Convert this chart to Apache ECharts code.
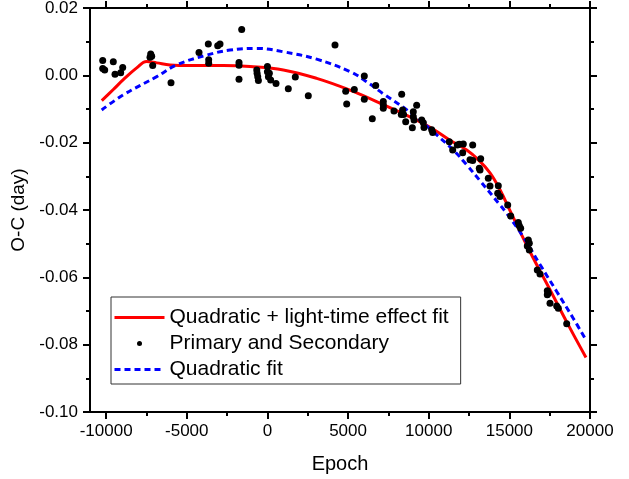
<!DOCTYPE html>
<html>
<head>
<meta charset="utf-8">
<title>O-C diagram</title>
<script src="https://cdn.jsdelivr.net/npm/echarts@6.0.0/dist/echarts.min.js"></script>
<style>
  html, body { margin: 0; padding: 0; background: #fff; }
  #ocChart { width: 629px; height: 479px; }
</style>
</head>
<body>
<div id="ocChart"></div>
<script>
  // observed minima (primary and secondary)
  const obsEpoch = [
    -10213, -10213, -10089, -9555, -9450, -9097, -8973, -7237, -7175, -7280,
    -7113, -5978, -4242, -3665, -3641, -3641, -3083, -2940, -1595, -1762,
    -1762, -1762, -660, -640, -600, -560, 0, 0, 120, 60,
    200, 532, 1295, 1729, 2535, 4190, 4853, 4915, 5387, 6007,
    6007, 6713, 6503, 7185, 7185, 7185, 7848, 8325, 8380, 8440,
    8300, 8573, 9045, 9045, 9090, 8985, 9254, 9566, 9667, 9708,
    10185, 10247, 11277, 11773, 11897, 12145, 12727, 11487, 12107, 12560,
    12727, 13223, 13137, 13180, 13695, 13800, 14315, 14277, 14420, 14897,
    15083, 15555, 15617, 15700, 16175, 16237, 16113, 16237, 16733, 16900,
    17353, 17415, 17353, 17520, 17935, 18035, 18555
  ]
  const obsOC = [
    0.0044, 0.0020, 0.0016, 0.0040, 0.0003, 0.0008, 0.0023, 0.0063, 0.0057, 0.0054,
    0.0029, -0.0022, 0.0068, 0.0093, 0.0046, 0.0036, 0.0088, 0.0093, 0.0136, 0.0038,
    0.0030, -0.0012, 0.0016, 0.0006, -0.0004, -0.0015, 0.0026, 0.0011, 0.0006, -0.0004,
    -0.0014, -0.0024, -0.0040, -0.0005, -0.0061, 0.0090, -0.0047, -0.0085, -0.0042, -0.0002,
    -0.0071, -0.0030, -0.0129, -0.0078, -0.0088, -0.0098, -0.0106, -0.0056, -0.0103, -0.0116,
    -0.0116, -0.0138, -0.0108, -0.0123, -0.0133, -0.0156, -0.0089, -0.0133, -0.0141, -0.0155,
    -0.0162, -0.0170, -0.0197, -0.0207, -0.0205, -0.0204, -0.0207, -0.0222, -0.0230, -0.0251,
    -0.0253, -0.0248, -0.0276, -0.0281, -0.0306, -0.0329, -0.0328, -0.0350, -0.0360, -0.0385,
    -0.0418, -0.0437, -0.0447, -0.0454, -0.0489, -0.0499, -0.0507, -0.0519, -0.0578, -0.0590,
    -0.0640, -0.0647, -0.0652, -0.0677, -0.0685, -0.0692, -0.0738
  ]

  // quadratic + light-time effect fit
  const lteEpoch = [-10270, -9555, -8935, -8105, -7485, -6865, -6040, -4800, -2735, -1080,
    985, 3055, 5120, 7185, 9254, 10285, 11300, 12355, 13100, 13800,
    14420, 15040, 16280, 17520, 18760, 19750]
  const lteOC = [-0.0075, -0.0042, -0.0013, 0.0022, 0.0041, 0.0037, 0.0031, 0.0029, 0.0029, 0.0026,
    0.0016, -0.0009, -0.0044, -0.0087, -0.0133, -0.0160, -0.0192, -0.0222, -0.0252, -0.0290,
    -0.0340, -0.0402, -0.0524, -0.0637, -0.0751, -0.0838]

  // quadratic fit
  const quadEpoch = [-10275, -8935, -6865, -5625, -3765, -2320, -665, 985, 3055, 5120,
    6155, 7185, 8425, 9460, 10285, 11525, 12355, 13180, 14420, 14835,
    15865, 16900, 17935, 18965, 19750]
  const quadOC = [-0.0103, -0.0058, -0.0004, 0.0031, 0.0060, 0.0075, 0.0080, 0.0070, 0.0048, 0.0011,
    -0.0019, -0.0055, -0.0095, -0.0133, -0.0168, -0.0222, -0.0266, -0.0313, -0.0385, -0.0410,
    -0.0480, -0.0562, -0.0642, -0.0722, -0.0786]

  const xMajorTicks = [-10000, -5000, 0, 5000, 10000, 15000, 20000]
  const xMinorTicks = [-7500, -2500, 2500, 7500, 12500, 17500]

  const FONT = 'Liberation Sans, Arial, sans-serif'
  const black = '#000'

  const zip = (xs, ys) => xs.map((x, i) => [x, ys[i]])

  function xAxisDef (pos, ticks, len, withLine, withLabel) {
    const axis = {
      type: 'value',
      position: pos,
      min: -11000,
      max: 20000,
      axisLine: { show: withLine, onZero: false, lineStyle: { color: black, width: 2, cap: 'square' } },
      axisTick: { show: true, customValues: ticks, length: len, lineStyle: { color: black, width: 2 } },
      axisLabel: { show: false },
      splitLine: { show: false }
    }
    if (withLabel) {
      axis.axisLabel = {
        show: true,
        customValues: ticks,
        color: black,
        fontSize: 17,
        fontFamily: FONT,
        margin: 11,
        formatter: v => String(v)
      }
      axis.name = 'Epoch'
      axis.nameLocation = 'middle'
      axis.nameGap = 42
      axis.nameTextStyle = { color: black, fontSize: 20, fontFamily: FONT }
    }
    return axis
  }

  function yAxisDef (pos, withLabel) {
    const axis = {
      type: 'value',
      position: pos,
      min: -0.1,
      max: 0.02,
      interval: 0.02,
      axisLine: { show: true, onZero: false, lineStyle: { color: black, width: 2, cap: 'square' } },
      axisTick: { show: true, length: 7, lineStyle: { color: black, width: 2 } },
      minorTick: { show: true, splitNumber: 2, length: 4, lineStyle: { color: black, width: 2 } },
      axisLabel: { show: false },
      splitLine: { show: false },
      minorSplitLine: { show: false }
    }
    if (withLabel) {
      axis.axisLabel = {
        show: true,
        color: black,
        fontSize: 17,
        fontFamily: FONT,
        margin: 12,
        formatter: v => v.toFixed(2)
      }
      axis.name = 'O-C (day)'
      axis.nameLocation = 'middle'
      axis.nameGap = 55
      axis.nameTextStyle = { color: black, fontSize: 19, fontFamily: FONT }
    }
    return axis
  }

  const chart = echarts.init(document.getElementById('ocChart'), null, { renderer: 'canvas' })
  chart.setOption({
    animation: false,
    backgroundColor: '#fff',
    grid: { left: 90, right: 39, top: 8, bottom: 67, containLabel: false, outerBoundsMode: 'none' },
    xAxis: [
      xAxisDef('bottom', xMajorTicks, 7, true, true),
      xAxisDef('bottom', xMinorTicks, 4, false, false),
      xAxisDef('top', xMajorTicks, 7, true, false),
      xAxisDef('top', xMinorTicks, 4, false, false)
    ],
    yAxis: [
      yAxisDef('left', true),
      yAxisDef('right', false)
    ],
    legend: {
      orient: 'vertical',
      left: 111,
      top: 297,
      itemWidth: 50,
      itemHeight: 5,
      itemGap: 5,
      padding: [10, 12, 4, 2],
      borderColor: '#333',
      borderWidth: 1,
      backgroundColor: '#fff',
      selectedMode: false,
      textStyle: { color: black, fontSize: 21, fontFamily: FONT, lineHeight: 21 },
      lineStyle: { width: 3 },
      data: [
        { name: 'Quadratic + light-time effect fit', itemStyle: { opacity: 0 } },
        { name: 'Primary and Secondary' },
        { name: 'Quadratic fit', itemStyle: { opacity: 0 } }
      ]
    },
    series: [
      {
        name: 'Quadratic + light-time effect fit',
        type: 'line',
        data: zip(lteEpoch, lteOC),
        symbol: 'none',
        smooth: 0.4,
        lineStyle: { color: '#ff0000', width: 3 },
        itemStyle: { color: '#ff0000' },
        z: 2
      },
      {
        name: 'Quadratic fit',
        type: 'line',
        data: zip(quadEpoch, quadOC),
        symbol: 'none',
        smooth: 0.4,
        lineStyle: { color: '#0000ff', width: 3, type: [6, 4] },
        itemStyle: { color: '#0000ff' },
        z: 3
      },
      {
        name: 'Primary and Secondary',
        type: 'scatter',
        data: zip(obsEpoch, obsOC),
        symbol: 'circle',
        symbolSize: 7,
        itemStyle: { color: black, opacity: 1 },
        z: 4
      }
    ]
  })
</script>
</body>
</html>
